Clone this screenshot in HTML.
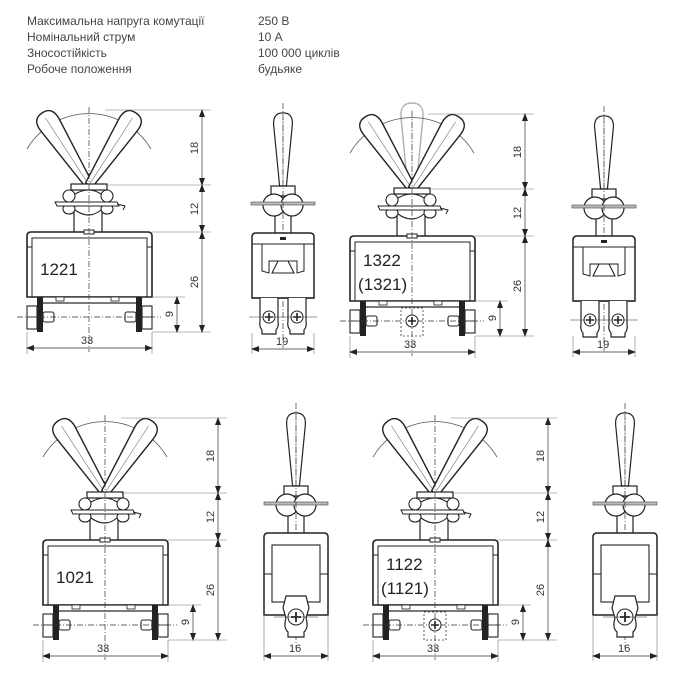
<!DOCTYPE html>
<html><head><meta charset="utf-8"><style>
html,body{margin:0;padding:0;background:#fff;}
svg{display:block;}
.t{font-family:"Liberation Sans",sans-serif;font-size:12px;fill:#444;}
.d{font-family:"Liberation Sans",sans-serif;font-size:11px;fill:#333;}
.n{font-family:"Liberation Sans",sans-serif;font-size:17px;fill:#222;}
</style></head><body>
<svg width="673" height="685" viewBox="0 0 673 685" xmlns="http://www.w3.org/2000/svg">
<defs>
<marker id="ar" markerWidth="8" markerHeight="6" refX="7" refY="3" orient="auto-start-reverse" markerUnits="userSpaceOnUse">
<path d="M0,0 L8,3 L0,6 Z" fill="#222"/></marker>
<g id="handle">
<path d="M-4,0 L-11,-72 Q-12,-86 0,-86 Q12,-86 11,-72 L4,0 Z" fill="#fff" stroke="#222" stroke-width="1.4"/>
<line x1="0" y1="-2" x2="0" y2="-80" stroke="#777" stroke-width="0.6"/>
</g>
<g id="front">
<path d="M-62,-83 A72,72 0 0 1 62,-83" fill="none" stroke="#555" stroke-width="0.8"/>
<use href="#handle" transform="translate(0,-47) rotate(-33)"/>
<use href="#handle" transform="translate(0,-47) rotate(33)"/>
<rect x="-18" y="-48" width="36" height="6" fill="#fff" stroke="#222" stroke-width="1.2"/>
<line x1="-15" y1="-20" x2="-15" y2="0" stroke="#222" stroke-width="1.2"/>
<line x1="13" y1="-20" x2="13" y2="0" stroke="#222" stroke-width="1.2"/>
<ellipse cx="-20" cy="-36" rx="6" ry="6" fill="#fff" stroke="#222" stroke-width="1.1"/>
<ellipse cx="18" cy="-36" rx="6" ry="6" fill="#fff" stroke="#222" stroke-width="1.1"/>
<ellipse cx="-20" cy="-23" rx="6" ry="5" fill="#fff" stroke="#222" stroke-width="1.1"/>
<ellipse cx="18" cy="-23" rx="6" ry="5" fill="#fff" stroke="#222" stroke-width="1.1"/>
<path d="M-14,-38 Q0,-46 12,-38 M-14,-22 Q0,-12 12,-22" fill="none" stroke="#222" stroke-width="1.1"/>
<path d="M-34,-30 L28,-30 L30,-26 L-32,-26 Z" fill="#fff" stroke="#222" stroke-width="1"/>
<path d="M28,-28 L36,-26 L34,-22" fill="none" stroke="#222" stroke-width="1"/>
<path d="M-62,65 L-62,4 Q-62,0 -58,0 L59,0 Q63,0 63,4 L63,65 Z" fill="#fff" stroke="#222" stroke-width="1.6"/>
<path d="M-57,65 L-57,6 L58,6 L58,65" fill="none" stroke="#222" stroke-width="1"/>
<line x1="-62" y1="15" x2="-57" y2="15" stroke="#222" stroke-width="1"/>
<line x1="58" y1="15" x2="63" y2="15" stroke="#222" stroke-width="1"/>
<rect x="-5" y="-2" width="10" height="4" fill="#fff" stroke="#222" stroke-width="1"/>
<rect x="-48" y="65" width="96" height="6" fill="#fff" stroke="#222" stroke-width="1.2"/>
<rect x="-33" y="65" width="8" height="4" fill="#fff" stroke="#222" stroke-width="0.8"/>
<rect x="22" y="65" width="8" height="4" fill="#fff" stroke="#222" stroke-width="0.8"/>
<rect x="-52" y="65" width="6" height="35" fill="#222"/>
<rect x="47" y="65" width="6" height="35" fill="#222"/>
<rect x="-62" y="74" width="10" height="23" fill="#fff" stroke="#222" stroke-width="1.1"/>
<line x1="-62" y1="85" x2="-52" y2="85" stroke="#222" stroke-width="0.8"/>
<rect x="53" y="74" width="10" height="23" fill="#fff" stroke="#222" stroke-width="1.1"/>
<line x1="53" y1="85" x2="63" y2="85" stroke="#222" stroke-width="0.8"/>
<rect x="-46" y="80" width="11" height="10" rx="2" fill="#fff" stroke="#222" stroke-width="1.1"/>
<rect x="36" y="80" width="11" height="10" rx="2" fill="#fff" stroke="#222" stroke-width="1.1"/>
<line x1="0" y1="-125" x2="0" y2="120" stroke="#333" stroke-width="0.7" stroke-dasharray="6,2,1,2"/>
<line x1="-72" y1="85" x2="72" y2="85" stroke="#333" stroke-width="0.7" stroke-dasharray="6,2,1,2"/>
<line x1="16" y1="-122" x2="122" y2="-122" stroke="#777" stroke-width="0.6"/>
<line x1="16" y1="-47" x2="122" y2="-47" stroke="#777" stroke-width="0.6"/>
<line x1="63" y1="0" x2="122" y2="0" stroke="#777" stroke-width="0.6"/>
<line x1="63" y1="65" x2="96" y2="65" stroke="#777" stroke-width="0.6"/>
<line x1="63" y1="100" x2="122" y2="100" stroke="#777" stroke-width="0.6"/>
<line x1="113" y1="-122" x2="113" y2="-47" stroke="#333" stroke-width="0.7" marker-start="url(#ar)" marker-end="url(#ar)"/>
<line x1="113" y1="-47" x2="113" y2="0" stroke="#333" stroke-width="0.7" marker-start="url(#ar)" marker-end="url(#ar)"/>
<line x1="113" y1="0" x2="113" y2="100" stroke="#333" stroke-width="0.7" marker-start="url(#ar)" marker-end="url(#ar)"/>
<line x1="88" y1="65" x2="88" y2="100" stroke="#333" stroke-width="0.7" marker-start="url(#ar)" marker-end="url(#ar)"/>
<line x1="-62" y1="100" x2="-62" y2="122" stroke="#777" stroke-width="0.6"/>
<line x1="63" y1="100" x2="63" y2="122" stroke="#777" stroke-width="0.6"/>
<line x1="-62" y1="116" x2="63" y2="116" stroke="#333" stroke-width="0.7" marker-start="url(#ar)" marker-end="url(#ar)"/>
</g>
<g id="lug">
<path d="M-9,65 L-9,88 Q-10,94 -7,97 L-7,101 L7,101 L7,97 Q10,94 9,88 L9,65" fill="#fff" stroke="#222" stroke-width="1.2"/>
<circle cx="0" cy="84" r="6" fill="#fff" stroke="#222" stroke-width="1"/>
<path d="M-4,84 H4 M0,80 V88" stroke="#222" stroke-width="1.6"/>
</g>
<g id="sidehead">
<use href="#handle" transform="translate(0,-47) scale(0.85,0.85)"/>
<rect x="-12" y="-47" width="24" height="10" fill="none" stroke="#222" stroke-width="1.2"/>
<line x1="-8" y1="-18" x2="-8" y2="0" stroke="#222" stroke-width="1.2"/>
<line x1="8" y1="-18" x2="8" y2="0" stroke="#222" stroke-width="1.2"/>
<circle cx="-9" cy="-28" r="11" fill="#fff" stroke="#222" stroke-width="1.2"/>
<circle cx="9" cy="-28" r="11" fill="#fff" stroke="#222" stroke-width="1.2"/>
<rect x="-32" y="-31" width="64" height="3" fill="#bbb" stroke="#444" stroke-width="0.6"/>
<line x1="0" y1="-130" x2="0" y2="115" stroke="#333" stroke-width="0.7" stroke-dasharray="6,2,1,2"/>
</g>
<g id="side1">
<use href="#sidehead"/>
<path d="M-31,65 L-31,4 Q-31,0 -27,0 L27,0 Q31,0 31,4 L31,65 Z" fill="#fff" stroke="#222" stroke-width="1.5"/>
<line x1="-31" y1="11" x2="31" y2="11" stroke="#222" stroke-width="1"/>
<path d="M-21,11 L-21,38 L-14,40 L-14,28 L14,28 L14,40 L21,38 L21,11" fill="none" stroke="#222" stroke-width="1"/>
<path d="M-11,40 L-5,28 L5,28 L11,40 Z" fill="none" stroke="#222" stroke-width="1.1"/>
<rect x="-3" y="4" width="6" height="3" fill="#222"/>
<line x1="-31" y1="65" x2="31" y2="65" stroke="#222" stroke-width="1.2"/>
<use href="#lug" transform="translate(-14,0)"/>
<use href="#lug" transform="translate(14,0)"/>
<line x1="-34" y1="84" x2="34" y2="84" stroke="#333" stroke-width="0.6"/>
<line x1="-31" y1="100" x2="-31" y2="121" stroke="#777" stroke-width="0.6"/>
<line x1="31" y1="100" x2="31" y2="121" stroke="#777" stroke-width="0.6"/>
<line x1="-31" y1="116" x2="31" y2="116" stroke="#333" stroke-width="0.7" marker-start="url(#ar)" marker-end="url(#ar)"/>
</g>
<g id="side2">
<use href="#sidehead"/>
<path d="M-32,82 L-32,4 Q-32,0 -28,0 L28,0 Q32,0 32,4 L32,82 Z" fill="#fff" stroke="#222" stroke-width="1.5"/>
<rect x="-24" y="12" width="48" height="57" fill="none" stroke="#222" stroke-width="1.1"/>
<line x1="-32" y1="41" x2="-24" y2="41" stroke="#222" stroke-width="1"/>
<line x1="24" y1="41" x2="32" y2="41" stroke="#222" stroke-width="1"/>
<path d="M-10,85 L-13,75 L-10,63 L10,63 L13,75 L10,85 Q13,95 8,99 L8,104 L-8,104 L-8,99 Q-13,95 -10,85 Z" fill="#fff" stroke="#222" stroke-width="1.2"/>
<circle cx="0" cy="84" r="8" fill="#fff" stroke="#222" stroke-width="1"/>
<path d="M-5,84 H5 M0,79 V89" stroke="#222" stroke-width="1.8"/>
<line x1="-22" y1="84" x2="22" y2="84" stroke="#333" stroke-width="0.6"/>
<line x1="-32" y1="82" x2="-32" y2="128" stroke="#777" stroke-width="0.6"/>
<line x1="32" y1="82" x2="32" y2="128" stroke="#777" stroke-width="0.6"/>
<line x1="-32" y1="123" x2="32" y2="123" stroke="#333" stroke-width="0.7" marker-start="url(#ar)" marker-end="url(#ar)"/>
</g>
<g id="midscrew">
<rect x="-11" y="72" width="22" height="28" fill="none" stroke="#333" stroke-width="0.8" stroke-dasharray="2,2"/>
<circle cx="0" cy="85" r="6" fill="#fff" stroke="#222" stroke-width="1"/>
<path d="M-4,85 H4 M0,81 V89" stroke="#222" stroke-width="1.6"/>
</g>
</defs>

<text class="t" x="27" y="25">Максимальна напруга комутації</text>
<text class="t" x="27" y="41">Номінальний струм</text>
<text class="t" x="27" y="57">Зносостійкість</text>
<text class="t" x="27" y="73">Робоче положення</text>
<text class="t" x="258" y="25">250 В</text>
<text class="t" x="258" y="41">10 А</text>
<text class="t" x="258" y="57">100 000 циклів</text>
<text class="t" x="258" y="73">будьяке</text>

<g transform="translate(89,232)">
<use href="#front"/>
<text class="n" x="-49" y="43">1221</text>
<text class="d" x="-8" y="112">33</text>
<text class="d" transform="translate(109,-84) rotate(-90)" text-anchor="middle">18</text>
<text class="d" transform="translate(109,-23) rotate(-90)" text-anchor="middle">12</text>
<text class="d" transform="translate(109,50) rotate(-90)" text-anchor="middle">26</text>
<text class="d" transform="translate(84,82) rotate(-90)" text-anchor="middle">9</text>
</g>
<g transform="translate(283,233)">
<use href="#side1"/>
<text class="d" x="-7" y="112">19</text>
</g>

<g transform="translate(412,236)">
<use href="#handle" transform="translate(0,-47)" opacity="0.35"/>
<use href="#front"/>
<use href="#midscrew"/>
<text class="n" x="-49" y="30">1322</text>
<text class="n" x="-54" y="54">(1321)</text>
<text class="d" x="-8" y="112">33</text>
<text class="d" transform="translate(109,-84) rotate(-90)" text-anchor="middle">18</text>
<text class="d" transform="translate(109,-23) rotate(-90)" text-anchor="middle">12</text>
<text class="d" transform="translate(109,50) rotate(-90)" text-anchor="middle">26</text>
<text class="d" transform="translate(84,82) rotate(-90)" text-anchor="middle">9</text>
</g>
<g transform="translate(604,236)">
<use href="#side1"/>
<text class="d" x="-7" y="112">19</text>
</g>

<g transform="translate(105,540)">
<use href="#front"/>
<text class="n" x="-49" y="43">1021</text>
<text class="d" x="-8" y="112">33</text>
<text class="d" transform="translate(109,-84) rotate(-90)" text-anchor="middle">18</text>
<text class="d" transform="translate(109,-23) rotate(-90)" text-anchor="middle">12</text>
<text class="d" transform="translate(109,50) rotate(-90)" text-anchor="middle">26</text>
<text class="d" transform="translate(84,82) rotate(-90)" text-anchor="middle">9</text>
</g>
<g transform="translate(296,533)">
<use href="#side2"/>
<text class="d" x="-7" y="119">16</text>
</g>

<g transform="translate(435,540)">
<use href="#front"/>
<use href="#midscrew"/>
<text class="n" x="-49" y="30">1122</text>
<text class="n" x="-54" y="54">(1121)</text>
<text class="d" x="-8" y="112">33</text>
<text class="d" transform="translate(109,-84) rotate(-90)" text-anchor="middle">18</text>
<text class="d" transform="translate(109,-23) rotate(-90)" text-anchor="middle">12</text>
<text class="d" transform="translate(109,50) rotate(-90)" text-anchor="middle">26</text>
<text class="d" transform="translate(84,82) rotate(-90)" text-anchor="middle">9</text>
</g>
<g transform="translate(625,533)">
<use href="#side2"/>
<text class="d" x="-7" y="119">16</text>
</g>
</svg>
</body></html>
